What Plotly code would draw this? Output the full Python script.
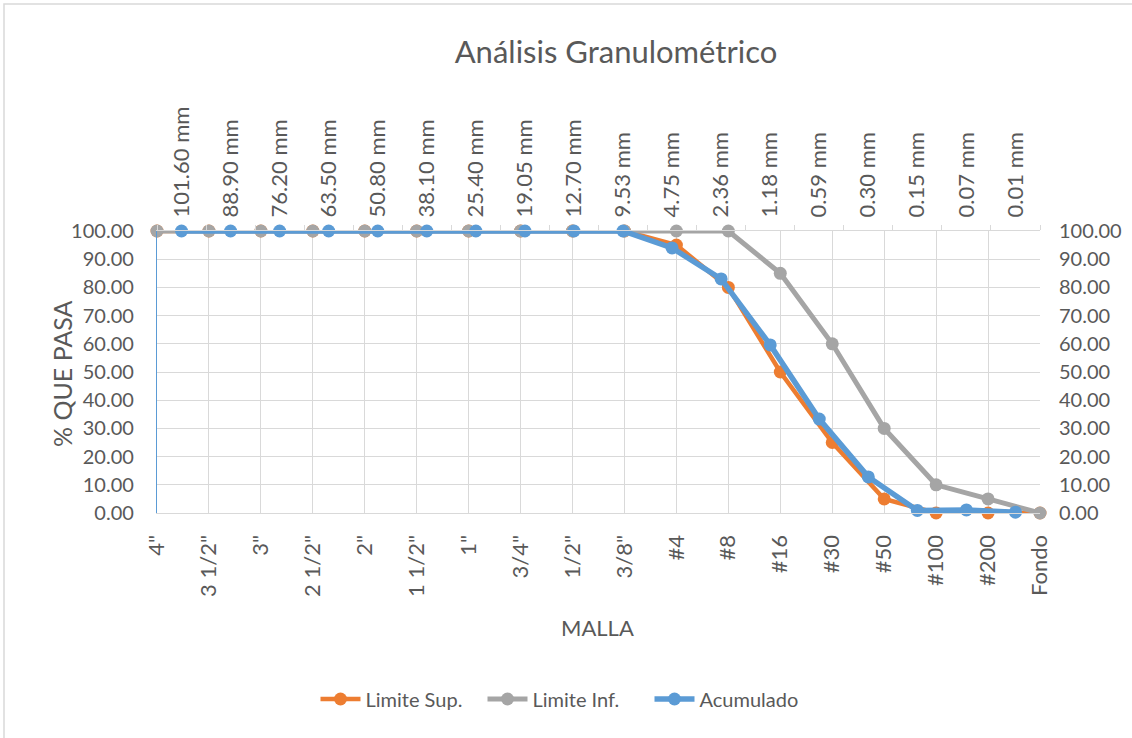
import plotly.graph_objects as go

# Sieve designations (bottom axis) and aperture sizes (top axis)
mallas = ['4"', '3 1/2"', '3"', '2 1/2"', '2"', '1 1/2"', '1"', '3/4"', '1/2"',
          '3/8"', '#4', '#8', '#16', '#30', '#50', '#100', '#200', 'Fondo']
aberturas = ['101.60 mm', '88.90 mm', '76.20 mm', '63.50 mm', '50.80 mm', '38.10 mm',
             '25.40 mm', '19.05 mm', '12.70 mm', '9.53 mm', '4.75 mm', '2.36 mm',
             '1.18 mm', '0.59 mm', '0.30 mm', '0.15 mm', '0.07 mm', '0.01 mm']

# Percent passing
limite_sup = [100, 100, 100, 100, 100, 100, 100, 100, 100, 100, 95, 80, 50, 25, 5, 0, 0, 0]
limite_inf = [100, 100, 100, 100, 100, 100, 100, 100, 100, 100, 100, 100, 85, 60, 30, 10, 5, 0]
acumulado = [100, 100, 100, 100, 100, 100, 100, 100, 100, 100, 94.0, 83.0, 59.6, 33.3, 12.8, 0.9, 1.1, 0.3]

ORANGE = "#ed7d31"
GRAY = "#a5a5a5"
BLUE = "#5b9bd5"
TEXT = "#595959"
GRID = "#d9d9d9"
FONT = "Lato"

W, H = 1132, 738
L, R, T, B = 157, 1040, 231, 513
pw, ph = R - L, B - T


def px_x(px):
    return (px - L) / pw


def px_y(py):
    return (B - py) / ph


fig = go.Figure()
fig.add_trace(go.Scatter(
    x=mallas, y=limite_sup, name="Limite Sup.", mode="lines+markers",
    line=dict(color=ORANGE, width=4.5), marker=dict(size=13, color=ORANGE),
    cliponaxis=False, xaxis="x", yaxis="y"))
fig.add_trace(go.Scatter(
    x=mallas, y=limite_inf, name="Limite Inf.", mode="lines+markers",
    line=dict(color=GRAY, width=5), marker=dict(size=13, color=GRAY),
    cliponaxis=False, xaxis="x", yaxis="y"))
fig.add_trace(go.Scatter(
    x=aberturas, y=acumulado, name="Acumulado", mode="lines+markers",
    line=dict(color=BLUE, width=5.5), marker=dict(size=13, color=BLUE),
    cliponaxis=False, xaxis="x2", yaxis="y2"))

ytickfont = dict(family=FONT, size=20, color=TEXT)
xtickfont = dict(family=FONT, size=22, color=TEXT)

fig.update_layout(
    width=W, height=H,
    margin=dict(l=L, r=W - R, t=T, b=H - B, autoexpand=False),
    paper_bgcolor="white", plot_bgcolor="white",
    font=dict(family=FONT, color=TEXT),
    title=dict(text="Análisis Granulométrico", x=616 / W,
               xanchor="center", y=1 - 52 / H, yanchor="middle", yref="container",
               font=dict(family=FONT, size=31, color=TEXT)),
    xaxis=dict(type="category", categoryorder="array", categoryarray=mallas,
               range=[0, len(mallas) - 1], tickangle=-90, tickfont=xtickfont,
               showgrid=True, gridcolor=GRID, gridwidth=1.3, ticks="",
               showline=True, linecolor=GRID, linewidth=1.3, zeroline=False,
               ticklabelstandoff=12),
    xaxis2=dict(type="category", categoryorder="array", categoryarray=aberturas,
                range=[-0.5, len(aberturas) - 0.5], overlaying="x", side="top",
                anchor="y2", tickangle=-90, tickfont=xtickfont, showgrid=False,
                ticks="outside", tickson="boundaries", ticklen=5, tickcolor=GRID,
                tickwidth=1.3, showline=True, linecolor=GRID, linewidth=1.3,
                zeroline=False, ticklabelstandoff=8),
    yaxis=dict(range=[0, 100], dtick=10, tickformat=".2f", tickfont=ytickfont,
               showgrid=True, gridcolor=GRID, gridwidth=1.3, zeroline=False,
               showline=True, linecolor=BLUE, linewidth=1.3, ticks="",
               ticklabelstandoff=18),
    yaxis2=dict(range=[0, 100], dtick=10, tickformat=".2f", tickfont=ytickfont,
                overlaying="y", side="right", anchor="x2", showgrid=False,
                zeroline=False, showline=False, ticks="", ticklabelstandoff=18),
    legend=dict(orientation="h", x=px_x(566), xanchor="center",
                y=px_y(699), yanchor="middle",
                font=dict(family=FONT, size=20, color=TEXT),
                bgcolor="rgba(0,0,0,0)", itemwidth=40,
                entrywidth=112, entrywidthmode="pixels"),
    annotations=[
        dict(text="% QUE PASA", x=px_x(62), y=px_y(374), xref="paper", yref="paper",
             showarrow=False, textangle=-90, xanchor="center", yanchor="middle",
             font=dict(family=FONT, size=25, color=TEXT)),
        dict(text="MALLA", x=px_x(597), y=px_y(627), xref="paper", yref="paper",
             showarrow=False, xanchor="center", yanchor="middle",
             font=dict(family=FONT, size=22, color=TEXT)),
    ],
    shapes=[dict(type="rect", xref="paper", yref="paper",
                 x0=px_x(4), x1=px_x(1140), y0=px_y(745), y1=px_y(4),
                 line=dict(color=GRID, width=1.5), layer="below")],
)

fig.write_html("out.html")
